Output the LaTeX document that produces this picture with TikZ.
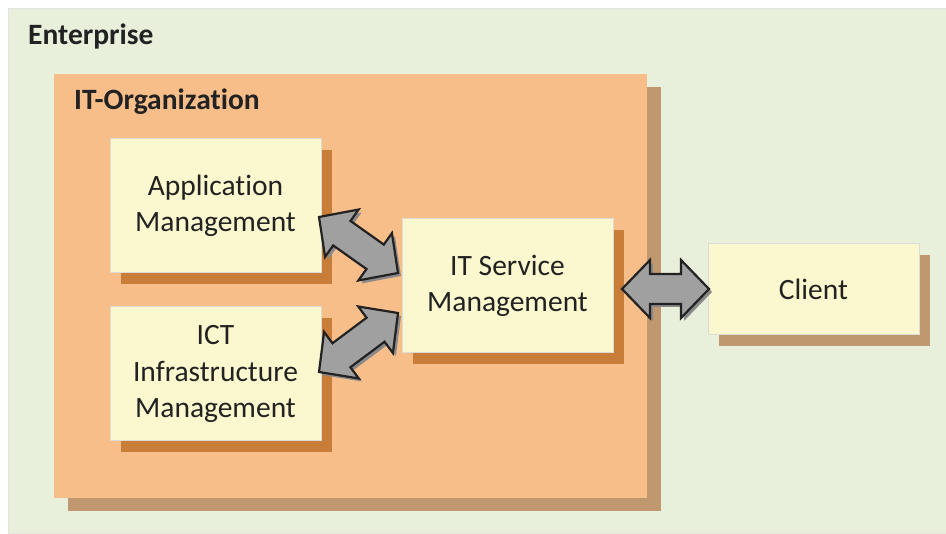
\documentclass[tikz,border=0pt]{standalone}
\usepackage{fontspec}
\setmainfont{Carlito}[Ligatures=NoCommon]
\usetikzlibrary{calc,shadows}
\definecolor{entfill}{HTML}{E8F0DC}
\definecolor{entline}{HTML}{E2E6DC}
\definecolor{orgfill}{HTML}{F8BE8A}
\definecolor{tanshadow}{HTML}{C09870}
\definecolor{boxfill}{HTML}{FBF7CE}
\definecolor{boxline}{HTML}{DCDCD4}
\definecolor{orshadow}{HTML}{C87D38}
\definecolor{txt}{HTML}{222222}
\definecolor{arrfill}{HTML}{A0A0A0}
\definecolor{arrshadow}{HTML}{8A8A8A}
\tikzset{
  entbox/.style={draw=entline, line width=0.8pt, fill=entfill, inner sep=0pt},
  orgbox/.style={fill=orgfill, inner sep=0pt,
    drop shadow={shadow xshift=14pt, shadow yshift=-13pt, opacity=1, fill=tanshadow}},
  itembox/.style={draw=boxline, line width=1pt, fill=boxfill, inner sep=0pt,
    minimum width=211pt, align=center, text=txt,
    font=\fontsize{29.5}{36.5}\selectfont,
    drop shadow={shadow xshift=11pt, shadow yshift=-11pt, opacity=1, fill=orshadow}},
  clientbox/.style={itembox,
    drop shadow={shadow xshift=11pt, shadow yshift=-11pt, opacity=1, fill=tanshadow}},
  title/.style={anchor=base west, inner sep=0pt, text=txt,
    font=\bfseries\fontsize{29.5}{34}\selectfont},
  blockarr/.style={draw=txt, line width=2.2pt, fill=arrfill, line join=miter,
    drop shadow={shadow xshift=3pt, shadow yshift=-3pt, opacity=1, fill=arrshadow}}
}
% double block arrow between two named coordinates
\newcommand\blockarrow[2]{%
  \path[blockarr] (#1)
    -- ($(#1)!28pt!(#2)!29pt!90:(#2)$)
    -- ($(#1)!28pt!(#2)!15pt!90:(#2)$)
    -- ($(#2)!28pt!(#1)!15pt!-90:(#1)$)
    -- ($(#2)!28pt!(#1)!29pt!-90:(#1)$)
    -- (#2)
    -- ($(#2)!28pt!(#1)!29pt!90:(#1)$)
    -- ($(#2)!28pt!(#1)!15pt!90:(#1)$)
    -- ($(#1)!28pt!(#2)!15pt!-90:(#2)$)
    -- ($(#1)!28pt!(#2)!29pt!-90:(#2)$)
    -- cycle;}
\begin{document}
\begin{tikzpicture}[x=1pt,y=-1pt]
\useasboundingbox (0,0) rectangle (946,534);
\fill[white] (0,0) rectangle (946,534);
% Enterprise
\node[entbox, minimum width=939pt, minimum height=525pt] (ent) at (477.5,270.5) {};
\node[title] (entlabel) at (28,45) {Enterprise};
% IT-Organization
\node[orgbox, minimum width=593pt, minimum height=424pt] (org) at (350.5,286) {};
\node[title] (orglabel) at (74,110) {IT-Organization};
% boxes
\node[itembox, minimum height=134pt] (app) at (215.5,206) {Application\\Management};
\node[itembox, minimum height=134pt] (ict) at (215.5,374) {ICT\\Infrastructure\\Management};
\node[itembox, minimum height=134pt] (itsm) at (507.5,286) {IT Service\\Management};
\node[clientbox, minimum height=91pt] (client) at (813.5,289.5) {Client};
% arrow ends
\coordinate (a1) at (319,217);
\coordinate (a2) at (398,273);
\coordinate (b1) at (319,372);
\coordinate (b2) at (398,313);
\coordinate (c1) at (622,289);
\coordinate (c2) at (709,289);
\blockarrow{a1}{a2}
\blockarrow{b1}{b2}
\blockarrow{c1}{c2}
\end{tikzpicture}
\end{document}
